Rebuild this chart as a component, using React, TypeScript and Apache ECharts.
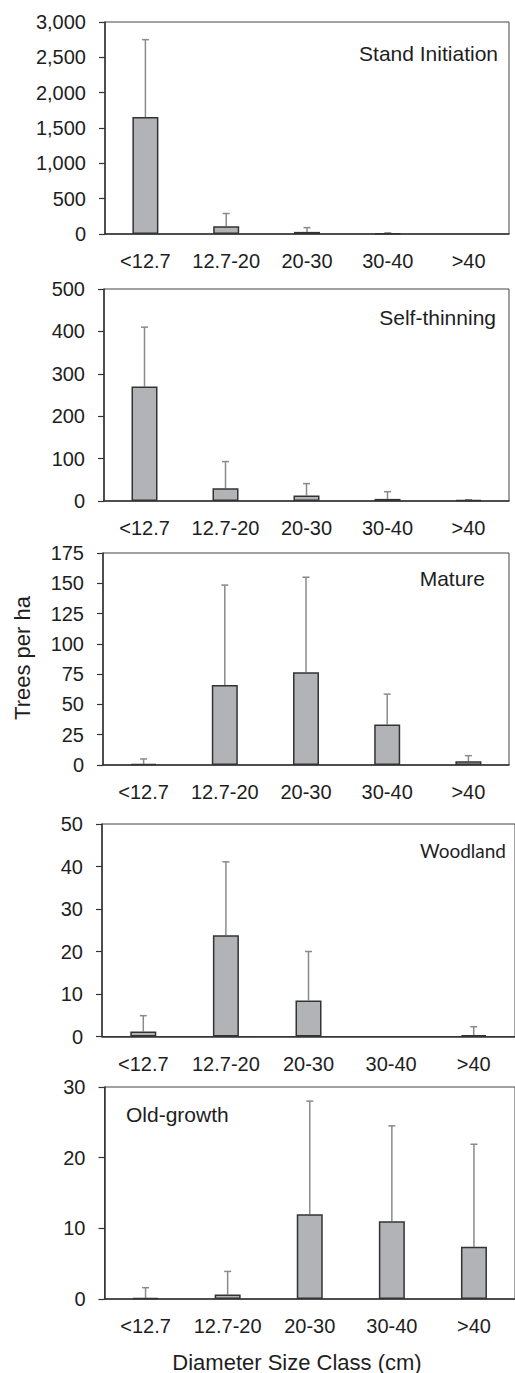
import React, { useEffect, useRef } from "react";
import * as echarts from "echarts";

const categories = ["<12.7", "12.7-20", "20-30", "30-40", ">40"];

const standMean = [1655, 110, 30, 10, 0];
const standErr = [1095, 180, 60, 6, 0];
const selfMean = [270, 30, 13, 5, 2];
const selfErr = [140, 63, 28, 17, 1];
const matureMean = [1, 66, 76.5, 33.5, 3];
const matureErr = [4, 82.5, 78.5, 25, 4.7];
const woodMean = [1.2, 23.8, 8.5, 0, 0.3];
const woodErr = [3.7, 17.3, 11.5, 0, 2];
const oldMean = [0.15, 0.65, 12, 11, 7.4];
const oldErr = [1.45, 3.25, 16, 13.5, 14.5];

const panelNames = ["Stand Initiation", "Self-thinning", "Mature", "Woodland", "Old-growth"];
const yMax = [3000, 500, 175, 50, 30];
const yInterval = [500, 100, 25, 10, 10];
const yTitle = "Trees per ha";
const xTitle = "Diameter Size Class (cm)";

const means = [standMean, selfMean, matureMean, woodMean, oldMean];
const errs = [standErr, selfErr, matureErr, woodErr, oldErr];

const FONT = "Liberation Sans, Arial, sans-serif";
const TEXT = "#1e1e1e";

const grids = [
  { left: 105, top: 22, width: 404, height: 212 },
  { left: 104, top: 289, width: 405, height: 212 },
  { left: 103, top: 553, width: 406, height: 212 },
  { left: 102, top: 824, width: 417, height: 212.5 },
  { left: 104.5, top: 1087, width: 412.5, height: 212 },
];

export default function App() {
  const ref = useRef<HTMLDivElement>(null);
  useEffect(() => {
    if (!ref.current) return;
    const chart = echarts.init(ref.current, null, { renderer: "svg" });
    const xAxis: any[] = [];
    const yAxis: any[] = [];
    const series: any[] = [];
    grids.forEach((g, i) => {
      xAxis.push({
        type: "category",
        gridIndex: i,
        data: categories,
        axisTick: { show: false },
        axisLine: { lineStyle: { color: "#333", width: 1.5 } },
        axisLabel: { fontSize: 20, color: TEXT, fontFamily: FONT, margin: 17, interval: 0 },
      });
      yAxis.push({
        type: "value",
        gridIndex: i,
        min: 0,
        max: yMax[i],
        interval: yInterval[i],
        splitLine: { show: false },
        axisLine: { show: true, lineStyle: { color: "#333", width: 1.5 } },
        axisTick: { show: true, length: 6, lineStyle: { color: "#333", width: 1.2 } },
        axisLabel: {
          fontSize: 20,
          color: TEXT,
          fontFamily: FONT,
          margin: 19,
          formatter: (v: number) => v.toLocaleString("en-US"),
        },
      });
      series.push({
        type: "bar",
        xAxisIndex: i,
        yAxisIndex: i,
        data: means[i].map((v) => (v === 0 ? { value: 0, itemStyle: { borderWidth: 0 } } : v)),
        barWidth: 26,
        z: 3,
        itemStyle: { color: "#b2b3b7", borderColor: "#333", borderWidth: 1.5 },
      });
      series.push({
        type: "custom",
        xAxisIndex: i,
        yAxisIndex: i,
        z: 2,
        encode: { x: 0, y: 1 },
        data: categories.map((_, k) => [k, means[i][k], errs[i][k]]),
        renderItem: (params: any, api: any) => {
          const x = api.value(0);
          const m = api.value(1);
          const e = api.value(2);
          if (!e) return { type: "group", children: [] };
          const p0 = api.coord([x, m]);
          const p1 = api.coord([x, m + e]);
          const st = { stroke: "#8a8a8a", lineWidth: 1.5 };
          return {
            type: "group",
            children: [
              { type: "line", shape: { x1: p0[0], y1: p0[1], x2: p1[0], y2: p1[1] }, style: st },
              { type: "line", shape: { x1: p1[0] - 3.5, y1: p1[1], x2: p1[0] + 3.5, y2: p1[1] }, style: st },
            ],
          };
        },
      });
    });

    const labelStyle = (size: number, family = FONT) => ({ fill: TEXT, fontSize: size, fontFamily: family });

    chart.setOption({
      animation: false,
      backgroundColor: "#fff",
      grid: grids.map((g) => ({ ...g, show: true, borderColor: "#444", borderWidth: 1, backgroundColor: "transparent" })),
      xAxis,
      yAxis,
      series,
      graphic: [
        { type: "text", x: 498, y: 53, style: { ...labelStyle(21), text: panelNames[0], textAlign: "right", textVerticalAlign: "middle" } },
        { type: "text", x: 496, y: 317, style: { ...labelStyle(21), text: panelNames[1], textAlign: "right", textVerticalAlign: "middle" } },
        { type: "text", x: 485, y: 578, style: { ...labelStyle(21), text: panelNames[2], textAlign: "right", textVerticalAlign: "middle" } },
        { type: "text", x: 506, y: 850, style: { ...labelStyle(19, "Lato, sans-serif"), text: panelNames[3], textAlign: "right", textVerticalAlign: "middle" } },
        { type: "text", x: 126, y: 1114, style: { ...labelStyle(21), text: panelNames[4], textAlign: "left", textVerticalAlign: "middle" } },
        { type: "text", x: 22, y: 658, rotation: Math.PI / 2, style: { ...labelStyle(22), text: yTitle, textAlign: "center", textVerticalAlign: "middle" } },
        { type: "text", x: 297, y: 1362, style: { ...labelStyle(22), text: xTitle, textAlign: "center", textVerticalAlign: "middle" } },
      ],
    });
    return () => chart.dispose();
  }, []);
  return <div ref={ref} style={{ position: "absolute", left: 0, top: 0, width: 515, height: 1373 }} />;
}
